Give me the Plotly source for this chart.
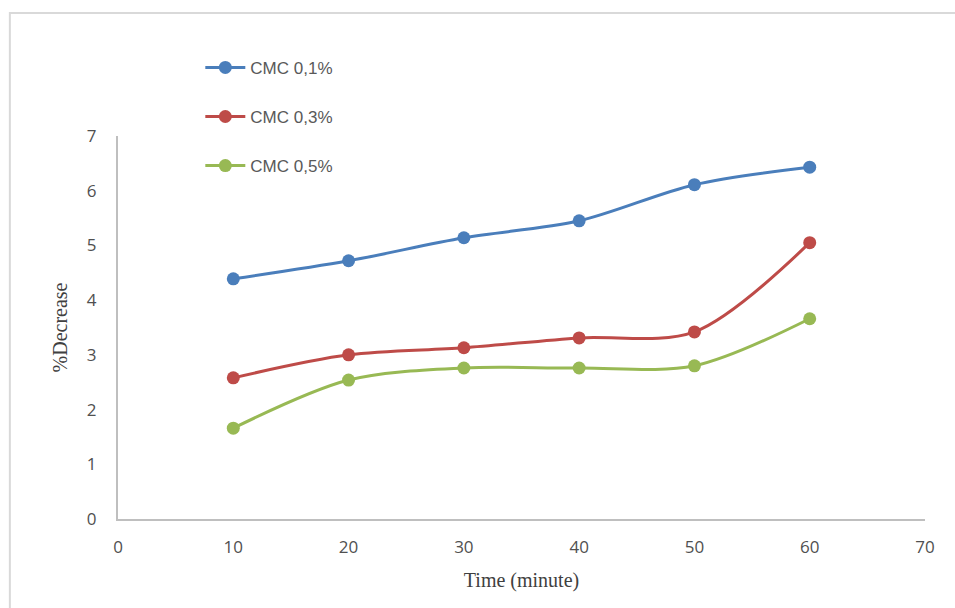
import plotly.graph_objects as go

time_min = [10, 20, 30, 40, 50, 60]
cmc_01 = [4.39, 4.72, 5.14, 5.45, 6.11, 6.43]
cmc_03 = [2.58, 3.00, 3.13, 3.31, 3.42, 5.05]
cmc_05 = [1.66, 2.54, 2.76, 2.76, 2.80, 3.66]

series_names = ["CMC 0,1%", "CMC 0,3%", "CMC 0,5%"]
series_values = [cmc_01, cmc_03, cmc_05]
series_colors = ["#4A7EBB", "#BE4B48", "#98B954"]

x_ticks = [0, 10, 20, 30, 40, 50, 60, 70]
y_ticks = [0, 1, 2, 3, 4, 5, 6, 7]

fig = go.Figure()
for i, (name, vals, col) in enumerate(zip(series_names, series_values, series_colors)):
    fig.add_trace(go.Scatter(
        x=time_min, y=vals, name=name, mode="lines+markers",
        line=dict(color=col, width=3, shape="spline", smoothing=0.9),
        marker=dict(color=col, size=13),
        legendgroup=f"g{i}",
    ))

tick_font = dict(family="Open Sans, Liberation Sans, sans-serif", size=17, color="#505050")
title_font = dict(family="Liberation Serif, Times New Roman, serif", size=20, color="#404040")

fig.update_layout(
    width=955, height=608,
    margin=dict(l=118, r=30, t=136, b=89),
    paper_bgcolor="white", plot_bgcolor="white",
    showlegend=True,
    legend=dict(
        x=0.102, y=1.225, xanchor="left", yanchor="top",
        traceorder="grouped", tracegroupgap=24,
        font=dict(family="Liberation Sans, Arial, sans-serif", size=17, color="#595959"),
        bgcolor="rgba(0,0,0,0)", itemwidth=40,
    ),
    xaxis=dict(
        range=[0, 70], tickvals=x_ticks, ticktext=[str(v) for v in x_ticks],
        showgrid=False, zeroline=False, showline=True, linecolor="#BFBFBF", linewidth=2,
        ticks="", tickfont=tick_font, ticklabelstandoff=12,
        title=dict(text="Time (minute)", font=title_font, standoff=16),
    ),
    yaxis=dict(
        range=[0, 7], tickvals=y_ticks, ticktext=[str(v) for v in y_ticks],
        showgrid=False, zeroline=False, showline=True, linecolor="#BFBFBF", linewidth=2,
        ticks="", tickfont=tick_font, ticklabelstandoff=16,
        title=dict(text="%Decrease", font=title_font, standoff=14),
    ),
    shapes=[dict(
        type="rect", xref="paper", yref="paper",
        x0=-0.134, x1=1.2, y0=-0.4, y1=1.321,
        line=dict(color="#D9D9D9", width=2), fillcolor="rgba(0,0,0,0)", layer="below",
    )],
)

fig.write_html("out.html")
